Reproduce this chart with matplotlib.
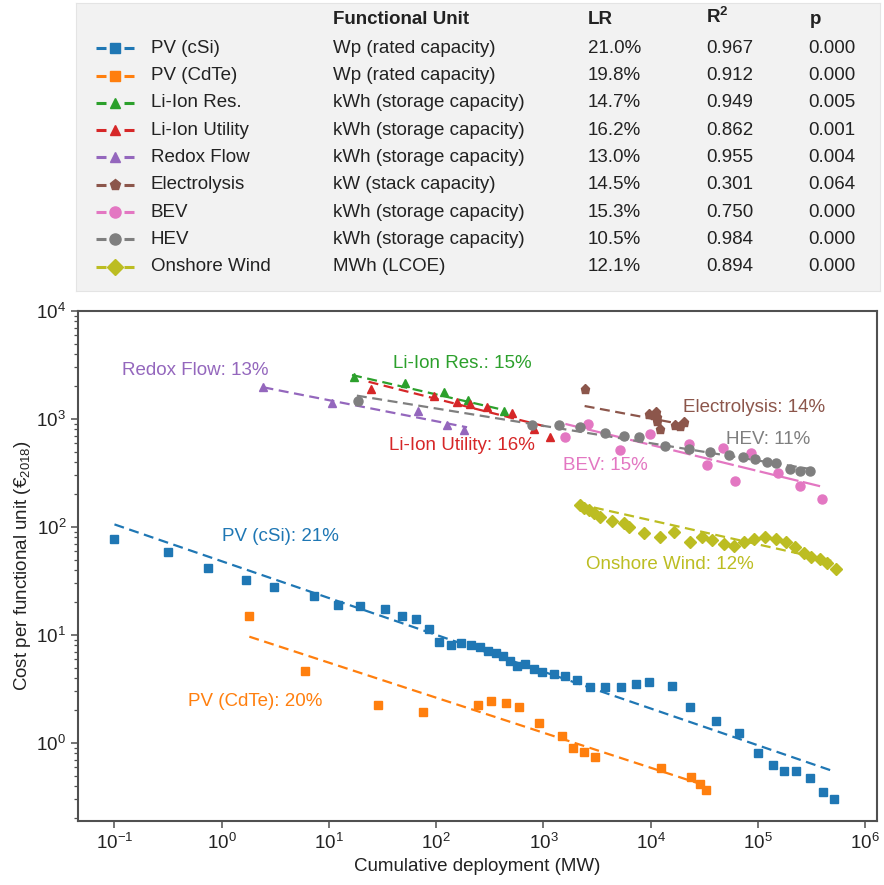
import matplotlib
matplotlib.use("Agg")
import matplotlib.pyplot as plt
from matplotlib.ticker import NullFormatter, NullLocator, FixedLocator, LogLocator

plt.rcParams['font.family'] = ['Liberation Sans', 'DejaVu Sans']
plt.rcParams['mathtext.fontset'] = 'custom'
plt.rcParams['mathtext.rm'] = 'Liberation Sans'
plt.rcParams['mathtext.it'] = 'Liberation Sans:italic'
plt.rcParams['mathtext.bf'] = 'Liberation Sans:bold'

# ---------------- data ----------------
pv_csi_x = [0.1, 0.315, 0.75, 1.69, 3.1, 7.3, 12.1, 19.3, 33.5, 48, 65, 85, 107, 136, 170, 212,
            258, 304, 361, 420, 491, 567, 678, 811, 971, 1245, 1600, 2056, 2697, 3724, 5300,
            7310, 9730, 15850, 23100, 40400, 67200, 99500, 137000, 175000, 227000, 304000,
            402000, 510000]
pv_csi_y = [76.7, 59.1, 42.0, 32.3, 27.9, 23.1, 18.9, 18.6, 17.3, 15.1, 14.0, 11.3, 8.57, 8.01,
            8.35, 8.12, 7.78, 7.11, 6.77, 6.44, 5.76, 5.19, 5.42, 4.85, 4.51, 4.33, 4.19, 3.83,
            3.33, 3.28, 3.33, 3.49, 3.65, 3.37, 2.17, 1.60, 1.24, 0.81, 0.624, 0.550, 0.550,
            0.476, 0.352, 0.304]

pv_cdte_x = [1.78, 6.0, 28.6, 76, 245, 327, 451, 596, 902, 1490, 1888, 2370, 3000, 12600,
             24000, 29100, 32900]
pv_cdte_y = [15.0, 4.68, 2.25, 1.93, 2.25, 2.47, 2.33, 2.17, 1.52, 1.16, 0.906, 0.829, 0.742,
             0.583, 0.482, 0.415, 0.364]

li_res_x = [17, 50.7, 117, 200, 425]
li_res_y = [2465, 2171, 1767, 1497, 1187]

li_util_x = [24.8, 94.6, 156, 205, 298, 509, 811, 1143]
li_util_y = [1883, 1645, 1445, 1377, 1281, 1129, 809, 686]

redox_x = [2.45, 10.7, 67.6, 126, 180]
redox_y = [1964, 1417, 1187, 881, 790]

electro_x = [2420, 9570, 10700, 11300, 11500, 11500, 12300, 17000, 18900, 20300]
electro_y = [1883, 1112, 1089, 1169, 1050, 965, 802, 881, 867, 944]

bev_x = [1600, 2580, 5210, 9800, 22600, 33600, 47000, 61700, 86500, 154000, 245000, 397000]
bev_y = [686, 900, 517, 722, 582, 374, 542, 267, 487, 314, 241, 181]

hev_x = [18.7, 783, 1387, 2207, 3776, 5600, 7730, 13500, 22600, 36000, 53400, 72800, 94800,
         122000, 148000, 197000, 249000, 304000]
hev_y = [1467, 881, 881, 850, 748, 696, 676, 565, 527, 491, 464, 442, 423, 398, 394, 342,
         332, 332]

wind_x = [2210, 2375, 2640, 2940, 3400, 4360, 5600, 6240, 8600, 12300, 16400, 23400, 30100,
          37400, 48000, 59400, 73800, 91400, 116000, 148000, 181000, 220000, 267000, 309000,
          378000, 443000, 529000]
wind_y = [160, 149, 144, 135, 123, 114, 108, 100, 88.5, 81.0, 90.7, 72.5, 80.0, 75.7, 70.3,
          67.0, 72.5, 76.8, 80.0, 76.8, 72.5, 64.9, 57.3, 53.0, 50.8, 46.2, 40.6]

# fitted experience curves: (x_start, x_end), (y_start, y_end)
fit_csi = ([0.1, 5.0e5], [105.7, 0.550])
fit_cdte = ([1.81, 31200], [9.65, 0.408])
fit_res = ([16.4, 425], [2555, 1213])
fit_util = ([23.4, 1120], [2212, 838])
fit_redox = ([2.45, 194], [1964, 838])
fit_electro = ([2420, 21100], [1319, 881])
fit_hev = ([18.2, 321000], [1645, 342])
fit_bev = ([1600, 397000], [900, 236])
fit_wind = ([2130, 529000], [163, 47.6])

names = ['PV (cSi)', 'PV (CdTe)', 'Li-Ion Res.', 'Li-Ion Utility', 'Redox Flow',
         'Electrolysis', 'BEV', 'HEV', 'Onshore Wind']
units = ['Wp (rated capacity)', 'Wp (rated capacity)', 'kWh (storage capacity)',
         'kWh (storage capacity)', 'kWh (storage capacity)', 'kW (stack capacity)',
         'kWh (storage capacity)', 'kWh (storage capacity)', 'MWh (LCOE)']
lr_vals = ['21.0%', '19.8%', '14.7%', '16.2%', '13.0%', '14.5%', '15.3%', '10.5%', '12.1%']
r2_vals = ['0.967', '0.912', '0.949', '0.862', '0.955', '0.301', '0.750', '0.984', '0.894']
p_vals = ['0.000', '0.000', '0.005', '0.001', '0.004', '0.064', '0.000', '0.000', '0.000']
curve_labels = ['PV (cSi): 21%', 'PV (CdTe): 20%', 'Li-Ion Res.: 15%', 'Li-Ion Utility: 16%',
                'Redox Flow: 13%', 'Electrolysis: 14%', 'BEV: 15%', 'HEV: 11%',
                'Onshore Wind: 12%']

x_ticks = [1e-1, 1e0, 1e1, 1e2, 1e3, 1e4, 1e5, 1e6]
y_ticks = [1e0, 1e1, 1e2, 1e3, 1e4]

colors = ['#1f77b4', '#ff7f0e', '#2ca02c', '#d62728', '#9467bd', '#8c564b', '#e377c2',
          '#7f7f7f', '#bcbd22']
markers = ['s', 's', '^', '^', '^', 'p', 'o', 'o', 'D']
msizes = [6, 6, 6, 6, 6, 6.5, 6.5, 6.5, 6.5]

series = [(pv_csi_x, pv_csi_y, fit_csi), (pv_cdte_x, pv_cdte_y, fit_cdte),
          (li_res_x, li_res_y, fit_res), (li_util_x, li_util_y, fit_util),
          (redox_x, redox_y, fit_redox), (electro_x, electro_y, fit_electro),
          (bev_x, bev_y, fit_bev), (hev_x, hev_y, fit_hev), (wind_x, wind_y, fit_wind)]

# label positions (axes fraction)
label_pos = [(0.180, 0.5575), (0.138, 0.234), (0.3946, 0.8974), (0.389, 0.737),
             (0.0547, 0.884), (0.7576, 0.8112), (0.6066, 0.698), (0.8106, 0.749),
             (0.6358, 0.502)]

W, H = 884, 885
fig = plt.figure(figsize=(W / 100, H / 100), dpi=100)

# ---------------- table panel ----------------
tx0, tx1, ty0, ty1 = 76, 880, 3, 291
axt = fig.add_axes([tx0 / W, 1 - ty1 / H, (tx1 - tx0) / W, (ty1 - ty0) / H])
axt.set_xlim(tx0, tx1)
axt.set_ylim(ty1, ty0)
axt.set_facecolor('#f2f2f2')
axt.set_xticks([])
axt.set_yticks([])
for s in axt.spines.values():
    s.set_color('#e4e4e4')
    s.set_linewidth(0.8)

fs = 13.5
tcol = '#222222'
col_name, col_unit, col_lr, col_r2, col_p = 151, 333, 588, 706, 808
hy = 19
axt.text(col_unit, hy, 'Functional Unit', fontsize=fs, fontweight='bold', va='center', color=tcol)
axt.text(col_lr, hy, 'LR', fontsize=fs, fontweight='bold', va='center', color=tcol)
axt.text(col_r2, hy - 2, r'$\mathbf{R}^{\mathbf{2}}$', fontsize=fs, va='center', color=tcol)
axt.text(col_p + 2, hy, 'p', fontsize=fs, fontweight='bold', va='center', color=tcol)

row0, dy = 48.3, 27.3
for i in range(len(names)):
    y = row0 + i * dy
    axt.plot([96, 106], [y, y], color=colors[i], lw=2.2, solid_capstyle='butt')
    axt.plot([124, 134], [y, y], color=colors[i], lw=2.2, solid_capstyle='butt')
    axt.plot([115], [y], marker=markers[i], color=colors[i], ms=msizes[i] + 1.5, ls='none')
    axt.text(col_name, y, names[i], fontsize=fs, va='center', color=tcol)
    axt.text(col_unit, y, units[i], fontsize=fs, va='center', color=tcol)
    axt.text(col_lr, y, lr_vals[i], fontsize=fs, va='center', color=tcol)
    axt.text(col_r2, y, r2_vals[i], fontsize=fs, va='center', color=tcol)
    axt.text(col_p, y, p_vals[i], fontsize=fs, va='center', color=tcol)

# ---------------- main plot ----------------
ax0, ax1, ay0, ay1 = 78, 877, 311, 821
ax = fig.add_axes([ax0 / W, 1 - ay1 / H, (ax1 - ax0) / W, (ay1 - ay0) / H])
ax.set_xscale('log')
ax.set_yscale('log')

for i, (xs, ys, fit) in enumerate(series):
    ax.plot(xs, ys, ls='none', marker=markers[i], ms=msizes[i], color=colors[i], zorder=3)
    ls = (0, (8, 2)) if names[i] == 'BEV' else (0, (4.5, 2.5))
    ax.plot(fit[0], fit[1], ls=ls, lw=1.6, color=colors[i], zorder=2)
    ax.text(label_pos[i][0], label_pos[i][1], curve_labels[i], transform=ax.transAxes,
            fontsize=fs, color=colors[i], ha='left', va='center')

ax.set_xlim(10 ** -1.34, 10 ** 6.11)
ax.set_ylim(0.1896, 1e4)
ax.xaxis.set_major_locator(FixedLocator(x_ticks))
ax.yaxis.set_major_locator(FixedLocator(y_ticks))
ax.xaxis.set_minor_locator(NullLocator())
ax.yaxis.set_minor_locator(LogLocator(base=10, subs=range(2, 10), numticks=20))
ax.yaxis.set_minor_formatter(NullFormatter())
for s in ax.spines.values():
    s.set_color('#505050')
    s.set_linewidth(1.5)
ax.tick_params(which='major', length=5, width=1.1, color='#505050', labelsize=13.5,
               labelcolor=tcol)
ax.tick_params(which='minor', length=3, width=0.9, color='#505050')
ax.set_xlabel('Cumulative deployment (MW)', fontsize=fs, color=tcol, labelpad=4)
ax.set_ylabel('Cost per functional unit (€$_{2018}$)', fontsize=fs, color=tcol, labelpad=2)

fig.savefig('out.png', dpi=100)
